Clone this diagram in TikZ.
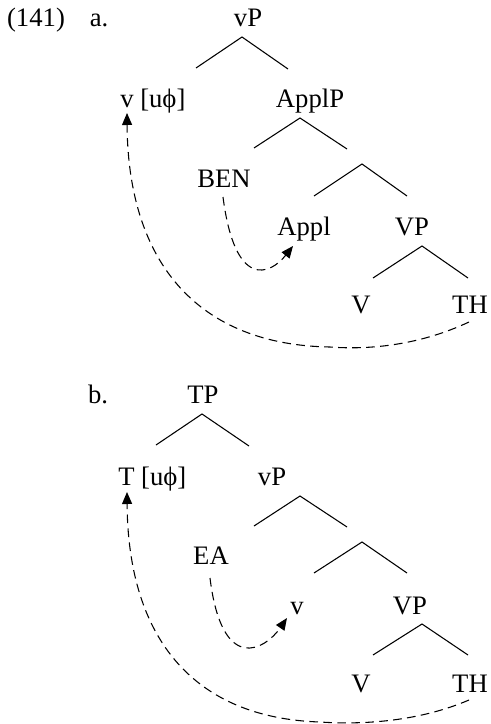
\documentclass[tikz,border=0pt]{standalone}
\usepackage{fontspec}
\setmainfont{Liberation Serif}
\usetikzlibrary{arrows.meta}
\begin{document}
\begin{tikzpicture}[x=0.75pt,y=-0.75pt,
  lab/.style={inner sep=0pt,anchor=base,font=\fontsize{20}{24}\selectfont},
  labw/.style={lab,anchor=base west},
  branch/.style={line width=0.8pt},
  mv/.style={line width=0.8pt,dash pattern=on 6.5pt off 4pt,-{Triangle[length=9pt,width=7.5pt]}}]
\useasboundingbox (0,0) rectangle (491,724);
% ---------- (a)
\node[lab] (num) at (36,27) {(141)};
\node[lab] (la) at (99,27) {a.};
\node[lab] (avP) at (248,27) {vP};
\node[labw] (avu) at (120,107) {v [uϕ]};
\node[lab] (aApplP) at (310,107) {ApplP};
\node[lab] (aBEN) at (224,187) {BEN};
\node[lab] (aAppl) at (304,235) {Appl};
\node[lab] (aVP) at (412,235) {VP};
\node[lab] (aV) at (361,313) {V};
\node[lab] (aTH) at (470,313) {TH};
\coordinate (a1t) at (242,37); \coordinate (a1l) at (196,68); \coordinate (a1r) at (288,69);
\coordinate (a2t) at (300,118); \coordinate (a2l) at (254,148); \coordinate (a2r) at (347,149);
\coordinate (a3t) at (362,164); \coordinate (a3l) at (314,196); \coordinate (a3r) at (407,196);
\coordinate (a4t) at (422,246); \coordinate (a4l) at (373,278); \coordinate (a4r) at (468,278);
\draw[branch] (a1l) -- (a1t) -- (a1r);
\draw[branch] (a2l) -- (a2t) -- (a2r);
\draw[branch] (a3l) -- (a3t) -- (a3r);
\draw[branch] (a4l) -- (a4t) -- (a4r);
\coordinate (aTHs) at (469,322);
\coordinate (avs) at (127,113);
\coordinate (aBENs) at (223,197);
\coordinate (aAppls) at (293,246);
\draw[mv] (aTHs) .. controls (420,345) and (370,350) .. (330,347)
  .. controls (200,345) and (128,265) .. (avs);
\draw[mv] (aBENs) .. controls (235,290) and (270,275) .. (aAppls);
% ---------- (b)
\node[lab] (lb) at (98,403) {b.};
\node[lab] (bTP) at (203,403) {TP};
\node[labw] (bTu) at (118,485) {T [uϕ]};
\node[lab] (bvP) at (272,485) {vP};
\node[lab] (bEA) at (211,564) {EA};
\node[lab] (bv) at (297,614) {v};
\node[lab] (bVP) at (410,614) {VP};
\node[lab] (bV) at (361,692) {V};
\node[lab] (bTH) at (470,692) {TH};
\coordinate (b1t) at (202,414); \coordinate (b1l) at (156,445); \coordinate (b1r) at (249,446);
\coordinate (b2t) at (300,496); \coordinate (b2l) at (254,526); \coordinate (b2r) at (347,527);
\coordinate (b3t) at (362,542); \coordinate (b3l) at (314,573); \coordinate (b3r) at (407,573);
\coordinate (b4t) at (422,624); \coordinate (b4l) at (373,655); \coordinate (b4r) at (468,655);
\draw[branch] (b1l) -- (b1t) -- (b1r);
\draw[branch] (b2l) -- (b2t) -- (b2r);
\draw[branch] (b3l) -- (b3t) -- (b3r);
\draw[branch] (b4l) -- (b4t) -- (b4r);
\coordinate (bTHs) at (469,700);
\coordinate (bTs) at (127,492);
\coordinate (bEAs) at (210,578);
\coordinate (bvs) at (287,618);
\draw[mv] (bTHs) .. controls (420,721) and (365,725) .. (320,722)
  .. controls (195,718) and (128,640) .. (bTs);
\draw[mv] (bEAs) .. controls (222,675) and (265,650) .. (bvs);
\end{tikzpicture}
\end{document}
